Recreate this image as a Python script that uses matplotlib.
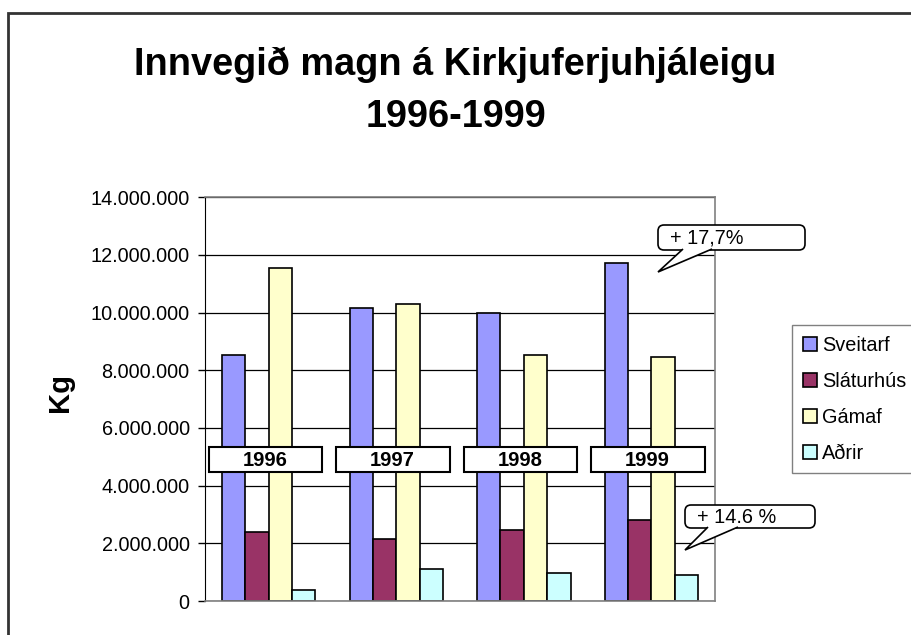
#!/usr/bin/env python3
# -*- coding: utf-8 -*-

import numpy as np
from matplotlib import pyplot as plt
from matplotlib import transforms
from matplotlib.patches import Rectangle, FancyBboxPatch, Polygon
from matplotlib.ticker import FuncFormatter, MultipleLocator

plt.rcParams["font.family"] = ["Liberation Sans", "DejaVu Sans"]

years = ["1996", "1997", "1998", "1999"]
series = ["Sveitarf", "Sláturhús", "Gámaf", "Aðrir"]
sveitarf = [8520000, 10160000, 9970000, 11730000]
slaturhus = [2400000, 2150000, 2460000, 2820000]
gamaf = [11530000, 10290000, 8520000, 8470000]
adrir = [380000, 1110000, 960000, 900000]
colors = ["#9999FF", "#993366", "#FFFFCC", "#CCFFFF"]

title_lines = ["Innvegið magn á Kirkjuferjuhjáleigu", "1996-1999"]
callouts = ["+ 17,7%", "+ 14.6 %"]

fig = plt.figure(figsize=(9.11, 6.35), dpi=100)
ax = fig.add_axes([0.225, 0.0535, 0.56, 0.636])

# pixel coords, origin bottom-left of the picture
pix = transforms.Affine2D().scale(1 / 100.0) + fig.dpi_scale_trans
H = 635

x = np.arange(len(years))
w = 0.183
for i, (name, vals) in enumerate(zip(series, [sveitarf, slaturhus, gamaf, adrir])):
    ax.bar(x + (i - 1.5) * w, vals, w, color=colors[i], edgecolor="black",
           linewidth=1.2, label=name, zorder=2)

ax.set_xlim(-0.5, 3.5)
ax.set_ylim(0, 14000000)
ax.yaxis.set_major_locator(MultipleLocator(2000000))
ax.yaxis.set_major_formatter(FuncFormatter(lambda v, p: f"{int(v):,}".replace(",", ".")))
ax.set_xticks([])
ax.tick_params(axis="y", length=5, width=1, pad=6, labelsize=14.3)
ax.grid(axis="y", color="black", linewidth=0.9, zorder=0)
ax.set_axisbelow(True)
for s in ["top", "right", "bottom"]:
    ax.spines[s].set_color("#808080")
    ax.spines[s].set_linewidth(1.2)
ax.spines["left"].set_color("black")

# year label boxes
for i, yr in enumerate(years):
    ax.add_patch(Rectangle((i - 0.47, 4480000), 0.89, 870000, facecolor="white",
                           edgecolor="black", linewidth=1.5, zorder=4))
    ax.text(i - 0.03, 4880000, yr, ha="center", va="center", fontsize=14.5,
            fontweight="bold", zorder=5)


def callout(text, box, base, tip):
    # box: (left, top, right, bottom) in pixels from the top-left corner
    x0, y0, x1, y1 = box
    fig.add_artist(FancyBboxPatch((x0, H - y1), x1 - x0, y1 - y0,
                                  boxstyle="round,pad=0,rounding_size=6",
                                  transform=pix, facecolor="white",
                                  edgecolor="black", linewidth=1.2, zorder=6))
    fig.add_artist(Polygon([(base[0], H - y1 + 1), (tip[0], H - tip[1]),
                            (base[1], H - y1 + 1)], closed=False,
                           transform=pix, facecolor="white", edgecolor="black",
                           linewidth=1.2, zorder=7))
    fig.text(x0 + 12, H - (y0 + y1) / 2 - 1, text, transform=pix, ha="left",
             va="center", fontsize=14.3, zorder=8)


callout(callouts[0], (658, 225, 805, 250), (683, 712), (658, 272))
callout(callouts[1], (685, 505, 815, 528), (708, 738), (685, 550))

ax.legend(loc="upper left", bbox_to_anchor=(792 / 911, 1 - 325 / 635),
          bbox_transform=fig.transFigure, borderaxespad=0, fancybox=False,
          edgecolor="#808080", framealpha=1, fontsize=14.3, handlelength=0.7,
          handleheight=0.7, handletextpad=0.25, labelspacing=0.85,
          borderpad=0.55)

fig.text(0.5, 1 - 75 / 635, title_lines[0], ha="center", va="baseline",
         fontsize=27.3, fontweight="bold")
fig.text(0.5, 1 - 127 / 635, title_lines[1], ha="center", va="baseline",
         fontsize=27.3, fontweight="bold")
fig.text(60 / 911, 1 - 392 / 635, "Kg", rotation=90, ha="center", va="center",
         fontsize=21, fontweight="bold")

fig.add_artist(Rectangle((8 / 911, -0.1), 1.2, 1.1 - 13 / 635, transform=fig.transFigure,
                         fill=False, edgecolor="#333333", linewidth=2))

fig.savefig("out.png", dpi=100)
